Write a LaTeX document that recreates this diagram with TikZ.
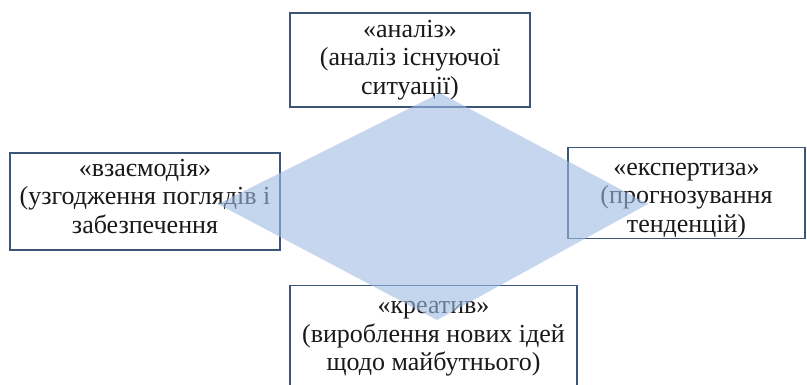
\documentclass[tikz,border=0pt]{standalone}
\usepackage{fontspec}
\setmainfont{Liberation Serif}
\usetikzlibrary{positioning}
\definecolor{ramka}{HTML}{3A5578}
\definecolor{rombfill}{HTML}{9EBBE3}
\tikzset{
    %Define style for boxes
    blok/.style={
           rectangle,
           draw=ramka,
           line width=1.1pt,
           fill=white,
           align=center,
           inner sep=0pt,
           text=black!90,
           font=\fontsize{26}{28.5}\selectfont},
    % Define style for the diamond
    romb/.style={
           fill=rombfill,
           fill opacity=0.6}
}
\begin{document}
\begin{tikzpicture}[x=1pt,y=-1pt]
  \useasboundingbox (0,0) rectangle (807,385);
  \node[blok,minimum width=240pt,minimum height=94pt] (analiz) at (410,60)
    {«аналіз»\\(аналіз існуючої\\ситуації)};
  \node[blok,minimum width=270pt,minimum height=97pt,text depth=11pt] (vzaiemodiia) at (145,201.5)
    {«взаємодія»\\(узгодження поглядів і\\забезпечення};
  \node[blok,minimum width=237pt,minimum height=91pt,text height=84pt] (ekspertyza) at (686.5,193)
    {«експертиза»\\(прогнозування\\тенденцій)};
  \node[blok,minimum width=287pt,inner ysep=16pt,text depth=30pt,anchor=north] (kreatyv) at (433.5,285)
    {«креатив»\\(вироблення нових ідей\\щодо майбутнього)};
  % diamond over the boxes
  \coordinate (verkh) at (440,93);
  \coordinate (pravo) at (648,204);
  \coordinate (niz) at (437,320);
  \coordinate (livo) at (218,204);
  \fill[romb] (verkh) -- (pravo) -- (niz) -- (livo) -- cycle;
\end{tikzpicture}
\end{document}
